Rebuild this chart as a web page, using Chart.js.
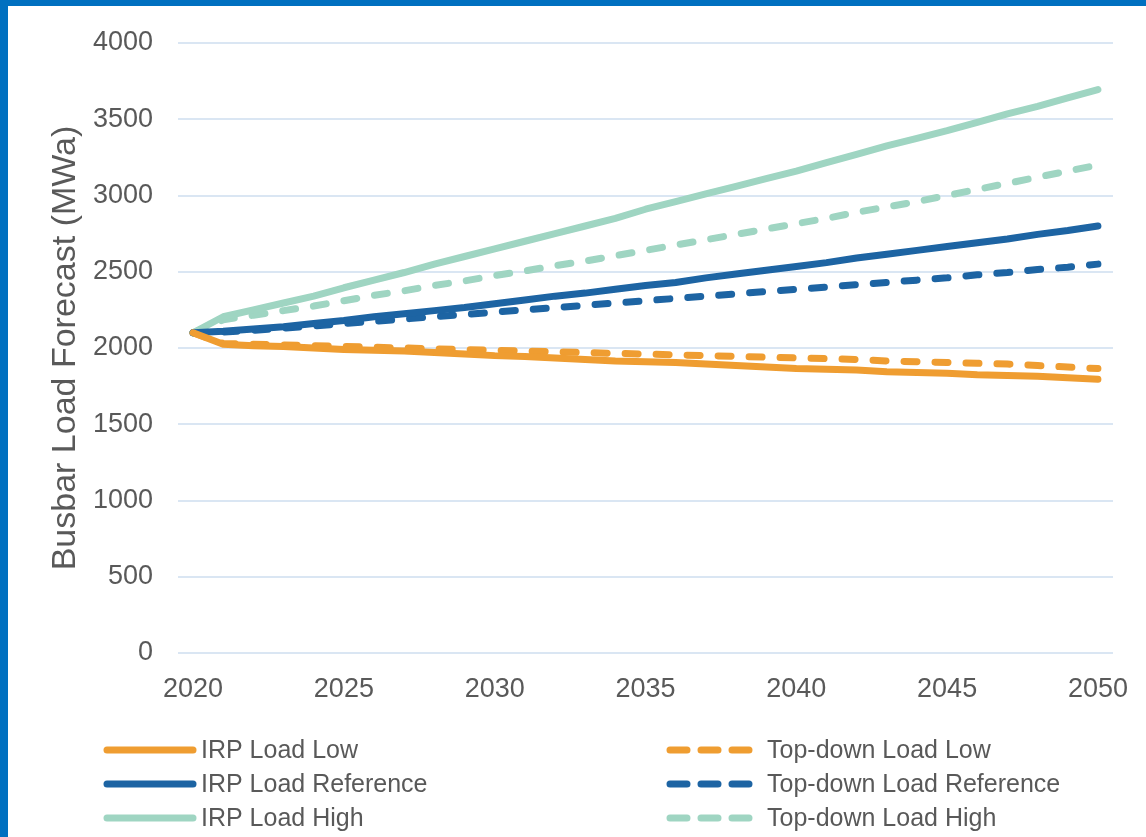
<!DOCTYPE html>
<html>
<head>
<meta charset="utf-8">
<script src="https://cdn.jsdelivr.net/npm/chart.js@4.4.1/dist/chart.umd.min.js"></script>
<style>
  html, body { margin: 0; padding: 0; background: #fff; }
  #wrap { position: relative; width: 1146px; height: 837px; overflow: hidden; background: #fff; }
  #wrap canvas { position: absolute; left: 0; top: 0; }
  .edge { position: absolute; background: #0070c0; }
</style>
</head>
<body>
<div id="wrap">
  <canvas id="chart"></canvas>
  <div class="edge" style="left:0;top:0;width:8px;height:837px"></div>
  <div class="edge" style="left:0;top:0;width:1146px;height:6px"></div>
</div>
<script>
const years = [2020, 2021, 2022, 2023, 2024, 2025, 2026, 2027, 2028, 2029, 2030,
  2031, 2032, 2033, 2034, 2035, 2036, 2037, 2038, 2039, 2040,
  2041, 2042, 2043, 2044, 2045, 2046, 2047, 2048, 2049, 2050];

const irpLow = [2100, 2025, 2015, 2010, 2000, 1990, 1985, 1980, 1970, 1960, 1950,
  1945, 1935, 1925, 1915, 1910, 1905, 1895, 1885, 1875, 1865,
  1860, 1855, 1845, 1840, 1835, 1825, 1820, 1815, 1805, 1795];
const irpRef = [2100, 2110, 2125, 2140, 2160, 2180, 2205, 2225, 2245, 2265, 2290,
  2315, 2340, 2360, 2385, 2410, 2430, 2460, 2485, 2510, 2535,
  2560, 2590, 2615, 2640, 2665, 2690, 2715, 2745, 2770, 2800];
const irpHigh = [2100, 2205, 2250, 2295, 2340, 2395, 2445, 2495, 2550, 2600, 2650,
  2700, 2750, 2800, 2850, 2910, 2960, 3010, 3060, 3110, 3160,
  3215, 3270, 3325, 3375, 3425, 3480, 3535, 3585, 3640, 3695];
const tdLow = [2100, 2030, 2025, 2020, 2015, 2010, 2005, 2000, 1995, 1990, 1985,
  1980, 1975, 1970, 1965, 1960, 1955, 1950, 1945, 1940, 1935,
  1930, 1925, 1915, 1910, 1905, 1900, 1895, 1885, 1875, 1865];
const tdRef = [2100, 2105, 2115, 2130, 2145, 2160, 2175, 2190, 2205, 2220, 2235,
  2250, 2265, 2280, 2295, 2310, 2325, 2340, 2355, 2370, 2385,
  2400, 2415, 2430, 2445, 2460, 2480, 2495, 2515, 2530, 2550];
const tdHigh = [2100, 2185, 2215, 2245, 2275, 2310, 2345, 2375, 2410, 2440, 2475,
  2505, 2540, 2570, 2605, 2640, 2675, 2710, 2745, 2780, 2815,
  2850, 2890, 2925, 2960, 3000, 3040, 3080, 3120, 3160, 3200];

const yTicks = [0, 500, 1000, 1500, 2000, 2500, 3000, 3500, 4000];

const ORANGE = '#ef9d31';
const NAVY = '#1d64a3';
const TEAL = '#9fd5c2';
const TEXT = '#595959';
const GRID = '#dae6f3';
const FONT = '"Liberation Sans", Arial, sans-serif';
const DASH = [13, 18];

function line(label, data, color, dashed) {
  return {
    label, data,
    borderColor: color,
    backgroundColor: color,
    borderWidth: 7,
    borderDash: dashed ? DASH : [],
    borderCapStyle: 'round',
    borderJoinStyle: 'round',
    pointRadius: 0,
    tension: 0,
    fill: false
  };
}

// legend drawn in two columns under the plot
const legendPlugin = {
  id: 'twoColLegend',
  afterDraw(chart) {
    const ctx = chart.ctx;
    const cols = [{ x0: 107, x1: 193, tx: 201 }, { x0: 670, x1: 755, tx: 767 }];
    const rows = [750, 784, 818];
    ctx.save();
    ctx.font = '25px ' + FONT;
    ctx.textBaseline = 'middle';
    ctx.fillStyle = TEXT;
    chart.data.datasets.forEach((ds, i) => {
      const c = cols[Math.floor(i / 3)];
      const y = rows[i % 3];
      ctx.beginPath();
      ctx.strokeStyle = ds.borderColor;
      ctx.lineWidth = 7;
      ctx.lineCap = 'round';
      ctx.setLineDash(ds.borderDash.length ? [17, 14] : []);
      ctx.moveTo(c.x0, y);
      ctx.lineTo(c.x1, y);
      ctx.stroke();
      ctx.setLineDash([]);
      ctx.fillText(ds.label, c.tx, y + 1);
    });
    ctx.restore();
  }
};

new Chart(document.getElementById('chart'), {
  type: 'line',
  data: {
    labels: years,
    datasets: [
      line('IRP Load Low', irpLow, ORANGE, false),
      line('IRP Load Reference', irpRef, NAVY, false),
      line('IRP Load High', irpHigh, TEAL, false),
      line('Top-down Load Low', tdLow, ORANGE, true),
      line('Top-down Load Reference', tdRef, NAVY, true),
      line('Top-down Load High', tdHigh, TEAL, true)
    ]
  },
  options: {
    responsive: true,
    maintainAspectRatio: false,
    animation: false,
    layout: { padding: { top: 43, right: 33, bottom: 124, left: 0 } },
    plugins: {
      legend: { display: false },
      tooltip: { enabled: false }
    },
    scales: {
      x: {
        type: 'category',
        offset: true,
        grid: { display: false },
        border: { display: false },
        ticks: {
          autoSkip: false,
          maxRotation: 0,
          padding: 12,
          color: TEXT,
          font: { family: FONT, size: 27 },
          callback: function (v, i) { return years[i] % 5 === 0 ? String(years[i]) : ''; }
        },
        afterFit: (s) => { s.height = 60; }
      },
      y: {
        min: 0,
        max: 4000,
        afterBuildTicks: (s) => { s.ticks = yTicks.map(v => ({ value: v })); },
        grid: { color: GRID, lineWidth: 2, drawTicks: false },
        border: { display: false },
        ticks: {
          padding: 25,
          color: TEXT,
          font: { family: FONT, size: 27 },
          callback: (v) => String(v)
        },
        title: {
          display: true,
          text: 'Busbar Load Forecast (MWa)',
          color: TEXT,
          font: { family: FONT, size: 34 },
          padding: { top: 45, bottom: 0 }
        },
        afterFit: (s) => { s.width = 178; }
      }
    }
  },
  plugins: [legendPlugin]
});
</script>
</body>
</html>
